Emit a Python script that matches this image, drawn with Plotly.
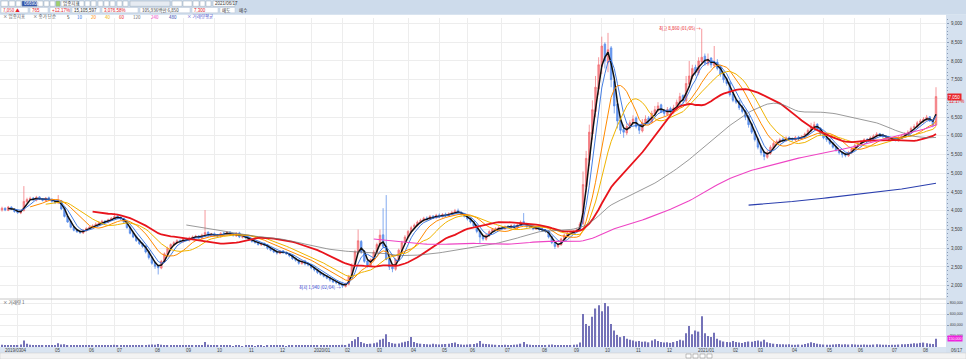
import plotly.graph_objects as go
import pandas as pd

# ---------------- data (2-trading-day bars) ----------------
opens = [
4020,4070,4010,4100,4040,3990,3940,4010,4240,4310,
4340,4280,4370,4310,4270,4350,4310,4250,4210,4270,
4060,3860,3720,3570,3490,3450,3410,3470,3540,3550,
3610,3630,3690,3730,3690,3770,3800,3860,3830,3790,
3710,3560,3410,3310,3210,3130,3060,2910,2760,2610,
2530,2470,2640,2840,3010,3090,3140,3210,3170,3260,
3210,3270,3310,3330,3270,3340,3430,3320,3390,3360,
3310,3410,3370,3430,3370,3330,3410,3290,3330,3290,
3230,3190,3160,3090,3130,3090,3010,2960,2910,2860,
2930,2890,2860,2810,2730,2690,2590,2660,2590,2560,
2490,2430,2360,2310,2260,2210,2160,2090,2090,2040,
1980,2040,2260,2540,2880,3180,2920,2660,2540,2690,
2880,3090,3360,3060,2720,2520,2440,2680,2940,3140,
3290,3440,3560,3610,3690,3740,3810,3770,3860,3810,
3890,3840,3910,3860,3910,3950,4010,3960,3910,3860,
3790,3710,3610,3460,3310,3240,3340,3440,3510,3510,
3560,3520,3590,3550,3610,3540,3610,3710,3660,3590,
3570,3510,3550,3510,3490,3460,3310,3160,3040,3090,
3240,3340,3410,3410,3440,3490,3660,4650,5350,6050,
6650,7250,7850,8450,7950,8350,7450,6850,6420,6180,
6080,6230,6330,6480,6260,6130,6330,6480,6370,6580,
6680,6830,6660,6570,6730,6630,6720,6870,7080,6930,
7380,7580,7830,7680,7980,8130,7920,8080,7880,7970,
7820,7670,7520,7420,7120,6960,6920,6770,6670,6520,
6320,6120,5920,5720,5570,5430,5530,5680,5790,5830,
5920,5870,5960,5930,5890,5970,5920,5970,6040,6140,
6240,6310,6210,6060,5960,5910,5810,5710,5630,5560,
5510,5470,5550,5640,5760,5790,5860,5910,5870,5940,
5990,6060,6030,5990,5960,5890,5930,5870,5940,5990,
6040,6090,6210,6240,6360,6390,6440,6510,6410,6290]
highs = [
4110,4090,4130,4120,4060,4010,4030,4660,4350,4380,
4370,4400,4390,4330,4370,4380,4330,4280,4420,4290,
4080,3880,3740,3600,3510,3470,3510,3560,3590,3640,
3690,3720,3760,3750,3790,3830,3940,3880,3850,3810,
3740,3590,3440,3340,3240,3160,3080,2940,2790,2640,
2560,2690,2890,3040,3130,3190,3240,3230,3290,3280,
3310,3340,3360,3350,3390,4020,3450,3410,3420,3380,
3430,3440,3460,3450,3390,3430,3440,3350,3360,3310,
3250,3210,3180,3150,3150,3110,3030,2980,2940,2950,
2950,2920,2880,2830,2750,2710,2680,2690,2610,2580,
2510,2450,2380,2330,2280,2230,2180,2120,2110,2060,
2080,2290,2600,2960,3500,3220,2950,2690,2730,2950,
3150,3500,4070,4420,2760,2560,2740,2990,3200,3350,
3490,3600,3660,3740,3790,3840,3850,3890,3880,3920,
3930,3940,3950,3960,4000,4050,4060,3990,3940,3880,
3820,3730,3640,3480,3330,3380,3480,3540,3560,3590,
3590,3610,3620,3640,3640,3650,3740,3940,3680,3620,
3600,3580,3580,3540,3510,3480,3330,3190,3130,3280,
3390,3440,3460,3480,3540,3700,5050,5600,6300,6950,
7600,8100,8650,8500,8750,8400,7500,6900,6500,6300,
6330,6420,6550,6520,6300,6450,6550,6530,6670,6800,
6900,6860,6700,6770,6780,6830,6970,7150,7110,7600,
8000,7900,7900,8100,8860,8200,8200,8100,8400,8050,
7880,7720,7560,7450,7180,7020,6960,6820,6700,6560,
6350,6150,5960,5740,5590,5610,5750,5850,5900,5950,
5960,5990,5990,5960,6000,6000,6020,6090,6200,6350,
6380,6340,6230,6090,5990,5940,5830,5730,5650,5590,
5550,5600,5690,5790,5840,5890,5940,5940,5990,6040,
6100,6080,6060,6020,5980,5960,5950,5990,6040,6100,
6150,6250,6310,6400,6450,6500,6560,6530,6450,7300]
lows = [
3980,3990,3990,4020,3950,3920,3910,3980,4200,4280,
4260,4250,4290,4250,4240,4270,4220,4180,4180,4020,
3820,3680,3530,3450,3410,3380,3380,3440,3510,3530,
3580,3610,3660,3680,3670,3740,3770,3790,3750,3660,
3520,3370,3270,3170,3090,3010,2860,2700,2560,2450,
2300,2440,2610,2810,2970,3060,3110,3150,3150,3190,
3180,3240,3280,3250,3240,3310,3290,3300,3320,3290,
3280,3350,3340,3330,3310,3300,3270,3260,3250,3190,
3150,3120,3070,3060,3050,2960,2920,2870,2830,2840,
2850,2820,2760,2690,2640,2560,2560,2540,2520,2440,
2380,2310,2270,2220,2170,2110,2070,2040,2000,1940,
1950,2010,2220,2500,2850,2850,2610,2480,2500,2650,
2850,3050,3000,2680,2420,2360,2400,2650,2900,3110,
3250,3400,3520,3580,3670,3710,3740,3750,3780,3790,
3810,3820,3830,3840,3880,3910,3920,3870,3820,3740,
3660,3560,3400,3120,3200,3200,3300,3420,3480,3490,
3500,3490,3530,3520,3520,3510,3580,3610,3540,3530,
3480,3490,3460,3440,3410,3260,3110,2980,3010,3070,
3210,3310,3380,3390,3420,3460,3620,4500,5200,5900,
6500,7100,7650,7800,7700,7300,6600,6200,6050,5950,
6020,6180,6300,6200,6050,6090,6280,6330,6330,6530,
6630,6610,6530,6530,6590,6580,6670,6820,6880,6880,
7300,7520,7600,7620,7900,7880,7870,7820,7820,7750,
7580,7420,7340,7050,6900,6850,6690,6600,6420,6220,
6050,5850,5640,5480,5350,5390,5490,5640,5760,5800,
5830,5840,5880,5860,5860,5890,5890,5940,6010,6100,
6200,6160,6000,5910,5840,5760,5660,5580,5500,5420,
5430,5440,5520,5610,5720,5760,5820,5840,5840,5900,
5950,5970,5940,5910,5860,5860,5850,5850,5920,5960,
6000,6060,6180,6210,6320,6350,6400,6370,6230,6260]
closes = [
4070,4020,4100,4040,3980,3950,4000,4250,4300,4330,
4290,4360,4320,4280,4340,4300,4250,4220,4280,4050,
3850,3700,3560,3480,3440,3420,3480,3530,3560,3600,
3640,3680,3720,3700,3760,3800,3850,3820,3780,3700,
3550,3400,3300,3200,3120,3050,2900,2750,2600,2520,
2480,2650,2850,3000,3100,3150,3200,3180,3250,3220,
3280,3300,3320,3280,3350,3420,3330,3380,3350,3320,
3400,3380,3420,3360,3340,3400,3300,3320,3280,3220,
3180,3150,3100,3120,3080,3000,2950,2900,2870,2920,
2880,2850,2800,2720,2680,2600,2650,2580,2550,2480,
2420,2350,2300,2250,2200,2150,2100,2080,2030,1990,
2050,2250,2550,2900,3200,2900,2650,2550,2700,2900,
3100,3350,3050,2700,2500,2450,2700,2950,3150,3300,
3450,3550,3620,3700,3750,3800,3780,3850,3820,3880,
3850,3900,3870,3920,3960,4000,3950,3900,3850,3780,
3700,3600,3450,3300,3250,3350,3450,3500,3520,3550,
3530,3580,3560,3600,3550,3620,3700,3650,3580,3560,
3520,3540,3500,3480,3450,3300,3150,3050,3100,3250,
3350,3400,3420,3450,3500,3650,4700,5400,6100,6700,
7300,7900,8400,8000,8300,7500,6800,6400,6150,6100,
6250,6350,6450,6250,6150,6350,6450,6400,6600,6700,
6800,6650,6600,6700,6650,6750,6900,7050,6950,7400,
7600,7800,7700,8000,8100,7950,8050,7900,7950,7800,
7650,7500,7400,7100,6950,6900,6750,6650,6500,6300,
6100,5900,5700,5550,5450,5550,5700,5800,5850,5900,
5880,5950,5920,5900,5960,5930,5980,6050,6150,6250,
6300,6200,6050,5950,5900,5800,5700,5620,5550,5500,
5480,5560,5650,5750,5800,5850,5900,5880,5950,6000,
6050,6020,5980,5950,5900,5920,5880,5950,6000,6050,
6100,6200,6250,6350,6400,6450,6500,6400,6285,7050]
volumes_k = [
40,35,30,28,25,30,45,120,60,40,
35,30,28,25,30,28,25,22,70,45,
50,35,30,25,22,20,22,25,20,22,
20,22,25,20,22,25,40,28,22,25,
30,35,28,25,30,28,35,40,45,40,
55,40,35,30,25,22,20,22,25,20,
22,20,25,22,25,90,40,25,22,20,
22,20,25,20,18,22,20,18,20,22,
20,18,22,20,18,25,22,20,25,22,
20,18,22,25,20,25,22,20,25,28,
25,30,28,25,30,35,28,30,35,40,
35,60,110,140,180,90,70,55,60,70,
80,130,150,230,90,70,60,65,80,95,
110,180,90,70,60,55,50,45,60,50,
45,50,55,60,75,80,55,45,40,45,
50,55,70,110,60,55,50,45,40,38,
35,40,38,35,40,45,60,90,50,40,
35,30,32,30,28,40,45,35,30,35,
30,32,35,40,45,80,600,420,380,550,
700,760,650,800,740,420,300,220,180,200,
150,130,120,100,110,95,100,85,120,140,
110,90,80,85,75,90,110,130,120,250,
380,230,300,280,560,250,200,180,260,150,
120,100,90,85,110,90,80,75,90,100,
95,110,120,100,130,85,70,60,55,50,
50,45,48,42,40,45,42,55,70,85,
75,60,50,45,40,42,45,50,55,45,
50,45,48,45,42,40,45,42,40,45,
50,45,42,40,38,42,40,45,48,50,
55,60,70,65,75,80,70,60,55,150]

month_start_idx = [0, 5, 16, 27, 36, 48, 58, 68, 78, 88, 99, 109, 119, 130, 140, 149,
                   160, 172, 182, 192, 202, 212, 222, 233, 241, 252, 263, 273, 284, 294]
month_labels = ["2019/03", "04", "05", "06", "07", "08", "09", "10", "11", "12", "2020/01",
                "02", "03", "04", "05", "06", "07", "08", "09", "10", "11", "12", "2021/01",
                "02", "03", "04", "05", "06", "07", "08"]
price_ticks = list(range(2000, 9001, 500))
hidden_price_tick = 7000   # covered by the current-price box in the reference
vol_ticks = [200000, 400000, 600000, 800000]

# moving averages (windows in 2-day bars ~ 5,10,20,40,60,120,240,480 days)
ma_windows = [3, 5, 10, 15, 30, 60, 120, 240]
ma_colors = ["#111111", "#2f6fe0", "#ff8a00", "#f0b400", "#e8141c", "#6e6e6e", "#ee44c4", "#2b3fae"]
ma_widths = [1.5, 0.9, 1.0, 1.0, 1.8, 0.7, 1.1, 1.1]

N = len(closes)
xs = list(range(N))
volumes = [v * 1000 for v in volumes_k]

# ---------------- geometry helpers (figure pixels -> paper) ----------------
W, H = 966, 359
ML, MR, MT, MB = 0, 20, 18, 12
PW, PH = W - ML - MR, H - MT - MB
def PX(px):
    return (px - ML) / PW
def PY(py):
    return (H - MB - py) / PH

split = PY(299)
FONT = "Liberation Sans"
KFONT = "Noto Sans CJK KR"

fig = go.Figure()
fig.add_trace(go.Candlestick(
    x=xs, open=opens, high=highs, low=lows, close=closes,
    increasing=dict(line=dict(color="#f26d73", width=0.7), fillcolor="#f58a8f"),
    decreasing=dict(line=dict(color="#4f86ea", width=0.7), fillcolor="#6f9cf0"),
    whiskerwidth=0, showlegend=False, hoverinfo="skip", xaxis="x", yaxis="y"))

cs = pd.Series(closes, dtype=float)
for w, c, lw in zip(ma_windows, ma_colors, ma_widths):
    fig.add_trace(go.Scatter(x=xs, y=cs.rolling(w).mean(), mode="lines",
                             line=dict(color=c, width=lw), showlegend=False,
                             hoverinfo="skip", xaxis="x", yaxis="y"))

fig.add_trace(go.Bar(x=xs, y=volumes, marker=dict(color="#7472b8", line=dict(width=0)),
                     width=0.4, showlegend=False, hoverinfo="skip", xaxis="x2", yaxis="y2"))

grid = "#ededed"
xrange_ = [-0.64, 302.2]
fig.update_layout(
    width=W, height=H, margin=dict(l=ML, r=MR, t=MT, b=MB),
    paper_bgcolor="white", plot_bgcolor="white", showlegend=False,
    font=dict(family=FONT, size=5, color="#333"),
    xaxis=dict(domain=[0, 1], range=xrange_, tickvals=month_start_idx[1:], showticklabels=False,
               showgrid=True, gridcolor=grid, gridwidth=1, zeroline=False, showline=False,
               rangeslider=dict(visible=False), anchor="y", ticks=""),
    xaxis2=dict(domain=[0, 1], range=xrange_, tickvals=month_start_idx[1:], showticklabels=False,
                showgrid=True, gridcolor=grid, gridwidth=1, zeroline=False, showline=False,
                matches="x", anchor="y2", ticks=""),
    yaxis=dict(domain=[split, 1], range=[1645, 9148], side="right", tickvals=price_ticks,
               ticktext=["" if v == hidden_price_tick else f"{v:,}" for v in price_ticks],
               showgrid=True, gridcolor=grid,
               zeroline=False, ticks="outside", ticklen=2, tickcolor="#8a9bb5",
               ticklabelstandoff=1,
               tickfont=dict(size=4.5, color="#3a3a3a", family=FONT),
               minor=dict(ticks="outside", ticklen=1, tickcolor="#8a9bb5", dtick=100)),
    yaxis2=dict(domain=[0, split], range=[0, 873000], side="right", tickvals=vol_ticks,
                ticktext=[f"{v:,}" for v in vol_ticks], showgrid=True, gridcolor=grid,
                zeroline=False, ticks="outside", ticklen=2, tickcolor="#8a9bb5",
                ticklabelstandoff=0,
                tickfont=dict(size=3.6, color="#3a3a3a", family=FONT)),
)

shapes = []
def rect(x0, y0, x1, y1, fill, line=None, lw=0):
    shapes.append(dict(type="rect", xref="paper", yref="paper",
                       x0=PX(x0), x1=PX(x1), y0=PY(y1), y1=PY(y0),
                       fillcolor=fill, line=dict(color=line or fill, width=lw), layer="below"))
# header band
rect(0, 0, 966, 14.7, "#cddbeb")
# right axis strip
rect(946, 14.7, 966, 353, "#d5e1ef")
# date strip
rect(0, 347, 946, 353, "#d9e4f1")
# scrollbar row
rect(0, 353, 966, 359, "#f3f3f3", "#c9c9c9", 0.5)
for x0 in [686, 693, 700, 707]:
    rect(x0, 354, x0 + 5, 358, "#ffffff", "#808080", 0.5)
# toolbar boxes (row 1)
for x0, x1, f in [(1, 8, "#ffffff"), (9, 15, "#ffffff"), (16, 21, "#ffffff"), (22, 37, "#2b4fa8"),
                  (38, 43, "#ffffff"), (44, 49, "#ffffff"), (50, 55, "#ffffff"), (56, 60, "#9fd06a"),
                  (61, 78, "#ffffff"), (79, 84, "#ffffff"), (85, 90, "#ffffff"), (91, 96, "#ffffff"),
                  (98, 103, "#ffffff"), (104, 109, "#ffffff"), (110, 115, "#ffffff"),
                  (117, 122, "#ffffff"), (123, 128, "#ffffff"), (130, 170, "#e6ebf2"),
                  (172, 182, "#ffffff"), (183, 192, "#ffffff"), (193, 199, "#ffffff"),
                  (200, 205, "#ffffff"), (206, 211, "#ffffff"), (213, 235, "#ffffff")]:
    rect(x0, 1, x1, 6.3, f, "#9aa8bb", 0.5)
# row 2 boxes
for x0, x1 in [(1, 28), (30, 48), (50, 70), (72, 100), (102, 138), (140, 190), (192, 218), (220, 235)]:
    rect(x0, 7.5, x1, 12.8, "#ffffff", "#b8c4d4", 0.5)
# panel divider
shapes.append(dict(type="line", xref="paper", yref="paper", x0=0, x1=1, y0=split, y1=split,
                   line=dict(color="#c8c8c8", width=1)))
fig.update_layout(shapes=shapes)

ann = []
def text(px, py, s, color="#333", size=5, anchor="left", bg=None, fam=KFONT):
    ann.append(dict(xref="paper", yref="paper", x=PX(px), y=PY(py), text=s, showarrow=False,
                    xanchor=anchor, yanchor="middle", font=dict(size=size, color=color, family=fam),
                    bgcolor=bg, borderpad=0))

# date labels
for idx, lab in zip(month_start_idx, month_labels):
    ann.append(dict(xref="x", yref="paper", x=idx, y=PY(350), text=lab, showarrow=False,
                    xanchor="left", yanchor="middle", xshift=1,
                    font=dict(size=4.5, color="#444", family=FONT)))
text(950, 350, "06/17", "#444", 4.5, fam=FONT)

# header row 2 text
text(2, 10.2, "7,050 ▲", "#e0202a", 4.5)
text(31, 10.2, "765", "#e0202a", 4.5, fam=FONT)
text(51, 10.2, "+12.17%", "#e0202a", 4.5, fam=FONT)
text(73, 10.2, "15,105,597", "#333", 4.5, fam=FONT)
text(103, 10.2, "3,076.58%", "#e0202a", 4.5, fam=FONT)
text(141, 10.2, "105,936백만 6,850", "#333", 4.5)
text(193, 10.2, "7,300", "#e0202a", 4.5, fam=FONT)
text(221, 10.2, "매도", "#333", 4.5)
text(238, 10.2, "매수", "#333", 4.5)
text(62, 3.6, "업종지표", "#333", 4.5)
text(23, 3.6, "066900", "#ffffff", 4.5, fam=FONT)
text(214, 3.6, "2021/06/17", "#333", 4.5, fam=FONT)

# legend row
legend_items = [("× 업종지표", "#555"), ("× 종가 단순", "#555"), ("5", "#111"), ("10", "#2f6fe0"),
                ("20", "#ff8a00"), ("40", "#f0b400"), ("60", "#e8141c"), ("120", "#6e6e6e"),
                ("240", "#ee44c4"), ("480", "#2b3fae"), ("× 거래량평균", "#5a5ad0")]
lx = 2
for s, c in legend_items:
    text(lx, 16.5, s, c, 4.5)
    lx += 6 + 4.0 * len(s)

# volume panel label
text(2, 302, "× 거래량 1", "#555", 4.5)

# high / low marks
ann.append(dict(xref="x", yref="y", x=224, y=8860, text="최고 8,860 (01/05) →", showarrow=False,
                xanchor="right", yanchor="middle", xshift=1,
                font=dict(size=4.5, color="#e8141c", family=KFONT)))
ann.append(dict(xref="x", yref="y", x=109, y=1940, text="최저 1,940 (02/04) →", showarrow=False,
                xanchor="right", yanchor="middle", xshift=1,
                font=dict(size=4.5, color="#2f3fd0", family=KFONT)))

# current price & volume boxes on the right strip
ann.append(dict(xref="paper", yref="y", x=PX(947), y=closes[-1], text=f"{closes[-1]:,}",
                showarrow=False, xanchor="left", yanchor="middle",
                font=dict(size=4.5, color="white", family=FONT), bgcolor="#e8262b", borderpad=0.5))
ann.append(dict(xref="paper", yref="y", x=PX(947), y=closes[-1], text="12.17%", yshift=-5,
                showarrow=False, xanchor="left", yanchor="middle",
                font=dict(size=4.5, color="#e8262b", family=FONT)))
ann.append(dict(xref="paper", yref="y2", x=PX(947), y=volumes[-1], text=f"{volumes[-1]:,}",
                showarrow=False, xanchor="left", yanchor="middle",
                font=dict(size=3.6, color="white", family=FONT), bgcolor="#ee22dd", borderpad=0.5))

fig.update_layout(annotations=ann)
fig.write_html("out.html", config={"displayModeBar": False},
               post_script="document.body.style.margin='0px';document.body.style.padding='0px';document.body.style.overflow='hidden';")
